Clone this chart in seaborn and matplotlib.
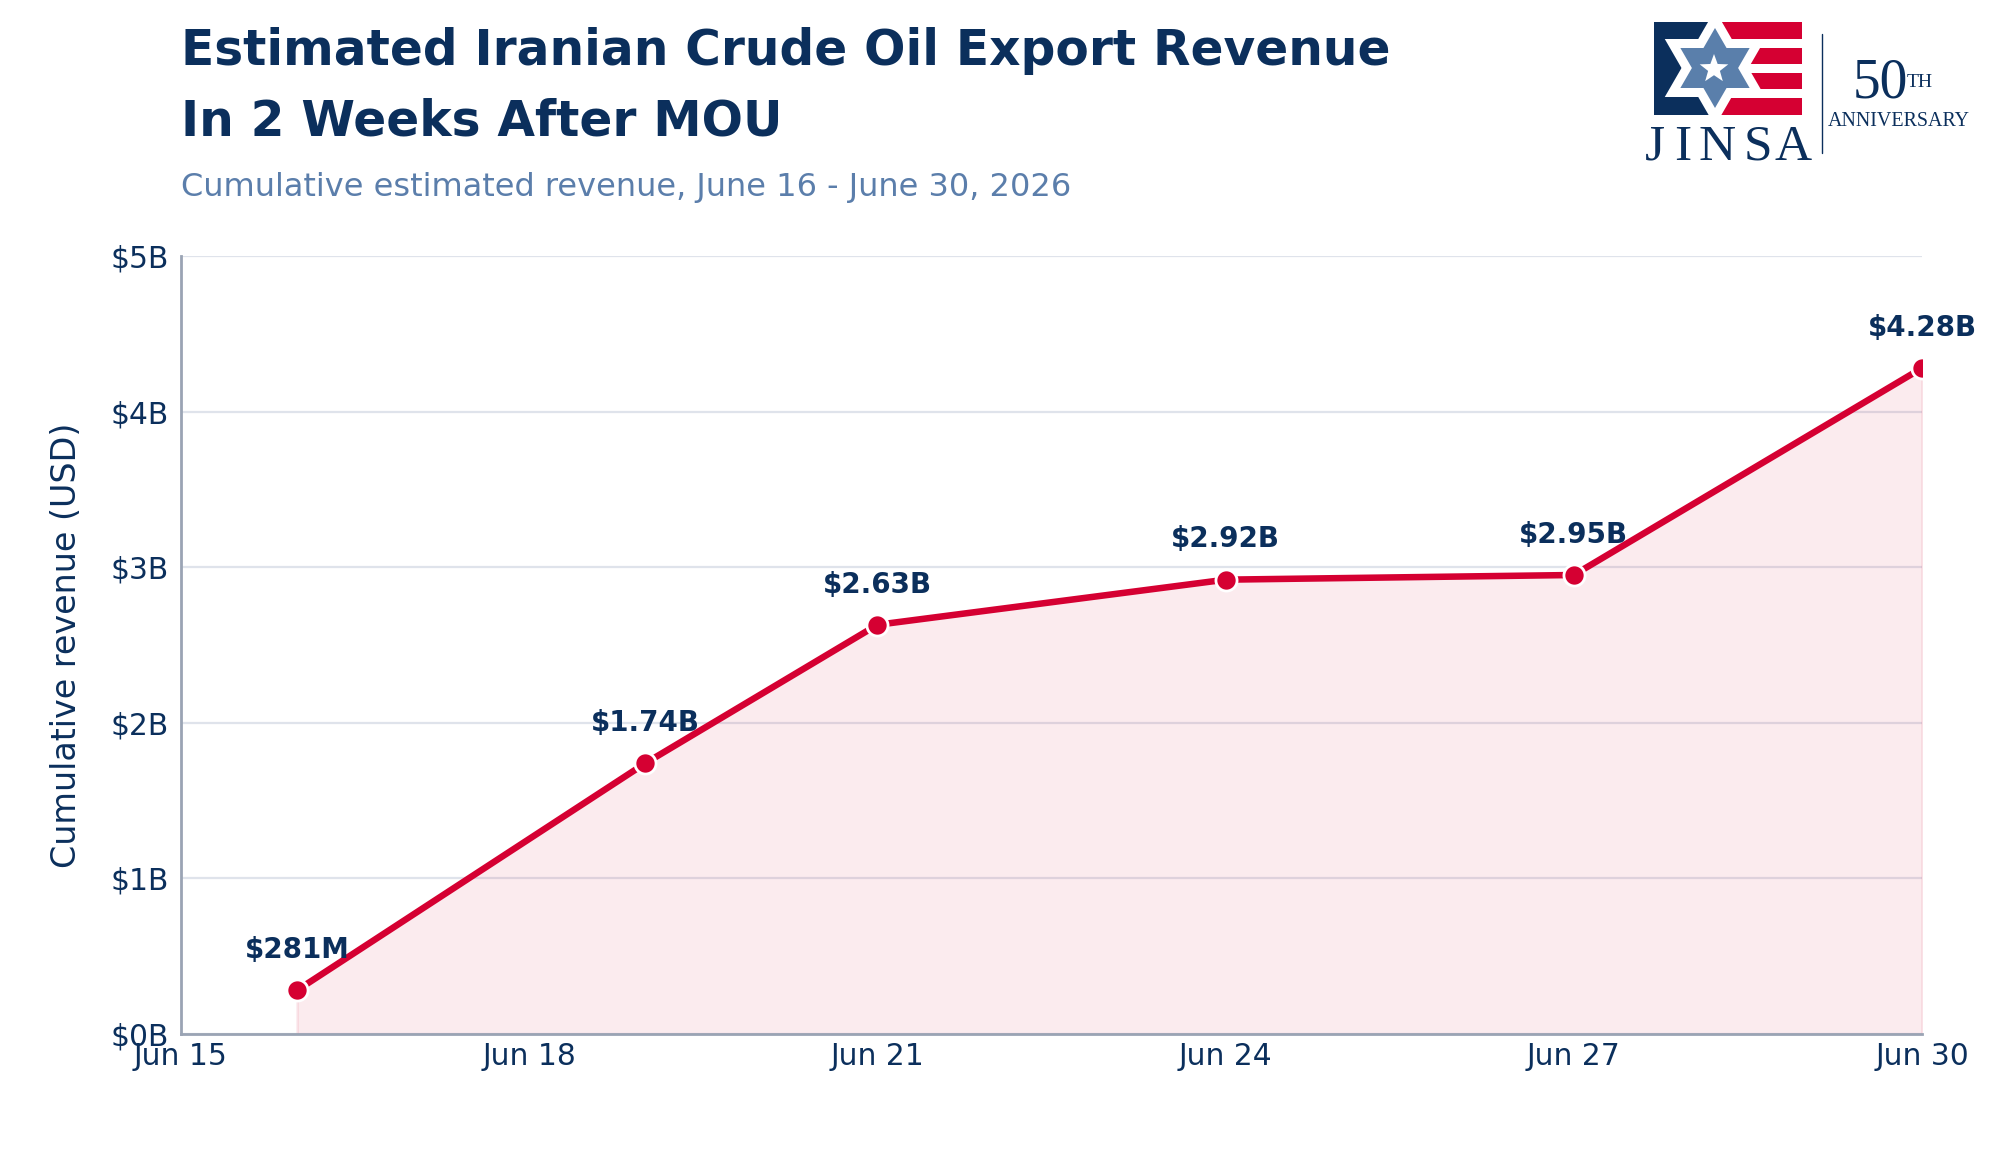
import matplotlib

matplotlib.use("Agg")

import matplotlib.dates as mdates
import matplotlib.pyplot as plt
import numpy as np
import pandas as pd
import seaborn as sns
from matplotlib.patches import Polygon, Rectangle

NAVY = "#0b2f5c"
RED = "#d50032"
STEEL = "#5b7eab"
GRID = "#dfe3eb"
SPINE = "#9aa4b4"

# data (billions of USD, cumulative)
dates = pd.to_datetime(
    ["2026-06-16", "2026-06-19", "2026-06-21", "2026-06-24", "2026-06-27", "2026-06-30"]
)
revenue_busd = [0.281, 1.74, 2.63, 2.92, 2.95, 4.28]
point_labels = ["$281M", "$1.74B", "$2.63B", "$2.92B", "$2.95B", "$4.28B"]

x_ticks = pd.to_datetime(
    ["2026-06-15", "2026-06-18", "2026-06-21", "2026-06-24", "2026-06-27", "2026-06-30"]
)
y_ticks = [0, 1, 2, 3, 4, 5]
y_tick_labels = ["$0B", "$1B", "$2B", "$3B", "$4B", "$5B"]

title_lines = ["Estimated Iranian Crude Oil Export Revenue", "In 2 Weeks After MOU"]
subtitle = "Cumulative estimated revenue, June 16 - June 30, 2026"
y_label = "Cumulative revenue (USD)"


def star_polygon(cx, cy, r_out, r_in, n=5):
    """Star outline in pixel coords (y grows downward)."""
    pts = []
    for k in range(2 * n):
        r = r_out if k % 2 == 0 else r_in
        ang = np.deg2rad(-90 + k * 180 / n)
        pts.append((cx + r * np.cos(ang), cy + r * np.sin(ang)))
    return pts


def triangle(cx, cy, r, start):
    return [
        (cx + r * np.cos(np.deg2rad(a)), cy + r * np.sin(np.deg2rad(a)))
        for a in (start, start + 120, start + 240)
    ]


def draw_logo(fig):
    """Rough JINSA 50th anniversary mark, drawn in figure pixel coords."""
    lax = fig.add_axes([0, 0, 1, 1], zorder=5)
    lax.set_xlim(0, 2000)
    lax.set_ylim(1160, 0)
    lax.axis("off")
    lax.patch.set_alpha(0)

    x0, x1, y0, y1 = 1654, 1802, 22, 115
    cx, cy = 1715, 68
    lax.add_patch(Rectangle((x0, y0), cx - x0, y1 - y0, color=NAVY, lw=0))
    for top, bot in [(22, 39), (48, 64), (73, 89), (98, 115)]:
        lax.add_patch(Rectangle((cx, top), x1 - cx, bot - top, color=RED, lw=0))
    for start in (-90, 90):
        lax.add_patch(Polygon(triangle(cx, cy, 58, start), color="white", lw=0))
    for start in (-90, 90):
        lax.add_patch(Polygon(triangle(cx, cy, 40, start), color="#5a7fab", lw=0))
    lax.add_patch(Polygon(star_polygon(1714, 69, 15, 6.2), color="white", lw=0))

    serif = "Liberation Serif"
    for letter, lx in zip("JINSA", [1655, 1683, 1717, 1758, 1793]):
        lax.text(lx, 160, letter, ha="center", va="baseline", fontsize=18.5,
                 family=serif, color=NAVY)
    lax.plot([1822, 1822], [34, 153], color=NAVY, lw=0.5)
    lax.text(1853, 97, "50", ha="left", va="baseline", fontsize=20,
             family=serif, color=NAVY)
    lax.text(1907, 87, "TH", ha="left", va="baseline", fontsize=7,
             family=serif, color=NAVY)
    lax.text(1899, 126, "ANNIVERSARY", ha="center", va="baseline", fontsize=7.2,
             family=serif, color=NAVY)


def main():
    sns.set_theme(style="white")
    plt.rcParams["font.family"] = ["DejaVu Sans"]

    fig = plt.figure(figsize=(10, 5.8), dpi=200)
    ax = fig.add_axes([0.0905, 0.1086, 0.8705, 0.6707])

    df = pd.DataFrame({"date": dates, "revenue": revenue_busd})

    ax.fill_between(df["date"], df["revenue"], 0, color=RED, alpha=0.08, lw=1, zorder=2)
    sns.lineplot(
        data=df,
        x="date",
        y="revenue",
        ax=ax,
        color=RED,
        lw=2.35,
        marker="o",
        markersize=7.6,
        markeredgecolor="white",
        markeredgewidth=1.0,
        zorder=3,
    )

    for d, v, lab in zip(dates, revenue_busd, point_labels):
        ax.annotate(
            lab,
            xy=(d, v),
            xytext=(0, 14.5),
            textcoords="offset points",
            ha="center",
            va="center",
            fontsize=10,
            fontweight="bold",
            color=NAVY,
            annotation_clip=False,
            zorder=4,
        )

    ax.set_xlim(x_ticks[0], x_ticks[-1])
    ax.set_ylim(0, 5)
    ax.set_xticks(x_ticks)
    ax.xaxis.set_major_formatter(mdates.DateFormatter("%b %d"))
    ax.set_yticks(y_ticks)
    ax.set_yticklabels(y_tick_labels)
    ax.tick_params(axis="both", length=0, labelsize=10.7, labelcolor=NAVY)
    ax.tick_params(axis="y", pad=4.3)
    ax.tick_params(axis="x", pad=3)

    ax.set_axisbelow(True)
    ax.grid(axis="y", color=GRID, lw=0.8)
    ax.grid(axis="x", visible=False)
    for side in ("top", "right"):
        ax.spines[side].set_visible(False)
    for side in ("left", "bottom"):
        ax.spines[side].set_color(SPINE)
        ax.spines[side].set_linewidth(1.0)

    ax.set_xlabel("")
    ax.set_ylabel(y_label, fontsize=12, color=NAVY)
    ax.yaxis.label.set_va("center")
    ax.yaxis.set_label_coords(-0.066, 0.5)

    fig.text(0.0905, 1 - 65 / 1160, title_lines[0], fontsize=17.5,
             fontweight="bold", color=NAVY, va="baseline")
    fig.text(0.0905, 1 - 135 / 1160, title_lines[1], fontsize=17.5,
             fontweight="bold", color=NAVY, va="baseline")
    fig.text(0.0905, 1 - 196 / 1160, subtitle, fontsize=11.5, color=STEEL,
             va="baseline")

    draw_logo(fig)

    fig.savefig("out.png", dpi=200)


if __name__ == "__main__":
    main()
